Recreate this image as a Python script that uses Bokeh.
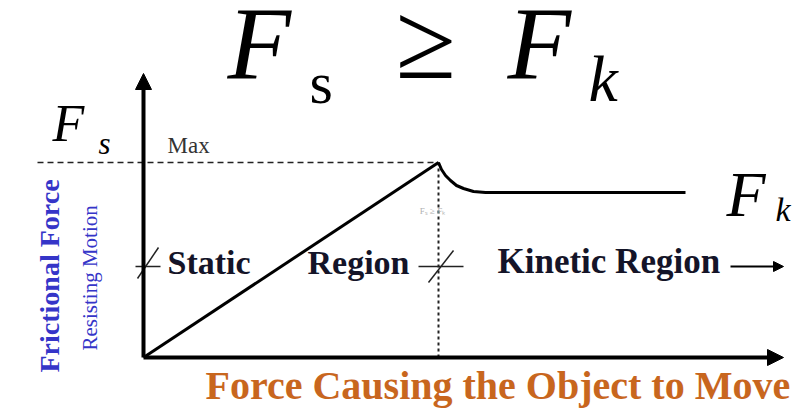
from bokeh.plotting import figure
from bokeh.models import Range1d, Arrow, NormalHead
from bokeh.core.properties import value
from bokeh.embed import file_html
from bokeh.resources import INLINE

# ---- data (applied force vs. friction force, arbitrary units) ----
static_x = [0, 295]
static_y = [0, 195]
kinetic_x = [295, 298, 302, 307, 313, 320, 330, 342, 542]
kinetic_y = [195, 188, 182, 177, 172, 169, 166, 165, 165]
peak_x = 295
peak_y = 195
axis_x_end = 640
axis_y_end = 284
region_level = 91

SERIF = value("Liberation Serif")

p = figure(width=811, height=413, output_backend="svg", toolbar_location=None,
           x_range=Range1d(-143, 668), y_range=Range1d(-56, 357),
           min_border=0, outline_line_color=None)
p.axis.visible = False
p.grid.visible = False
p.background_fill_color = "white"


def label(x, y, txt, size, style="normal", color="black", angle=0.0, **kw):
    # baseline correction for the renderer (about a third of the em size)
    shift = 0.33 * size
    if angle:
        xx, yy = x - shift, y
    else:
        xx, yy = x, y + shift
    p.text(x=[xx], y=[yy], text=[txt], angle=[angle], text_font=SERIF,
           text_font_style=style, text_font_size=f"{size}px", text_color=color,
           text_baseline="alphabetic", **kw)


# axes with arrow heads
p.add_layout(Arrow(end=NormalHead(size=16, fill_color="black", line_color="black"),
                   x_start=0, y_start=0, x_end=axis_x_end, y_end=0,
                   line_width=4, line_color="black"))
p.add_layout(Arrow(end=NormalHead(size=16, fill_color="black", line_color="black"),
                   x_start=0, y_start=0, x_end=0, y_end=axis_y_end,
                   line_width=4, line_color="black"))

# dashed max level and dotted peak marker
p.line([-106, peak_x], [peak_y, peak_y], line_dash="6 4", line_width=1.5, line_color="#222222")
p.line([peak_x, peak_x], [peak_y, 0], line_dash="3 3", line_width=2, line_color="#222222")

# friction curve
p.line(static_x, static_y, line_width=3, line_color="black")
p.line(kinetic_x, kinetic_y, line_width=3, line_color="black", line_join="round")

# region tick marks
p.segment(x0=[-8, 275], y0=[region_level, region_level], x1=[17, 320], y1=[region_level, region_level],
          line_width=1.5, line_color="#222222")
p.segment(x0=[-6, 285], y0=[region_level - 12, region_level - 16],
          x1=[15, 310], y1=[region_level + 19, region_level + 16],
          line_width=1.5, line_color="#222222")
p.add_layout(Arrow(end=NormalHead(size=10, fill_color="black", line_color="black"),
                   x_start=587, y_start=region_level, x_end=640, y_end=region_level,
                   line_width=2, line_color="black"))

# title F_s >= F_k
label(84, 280, "F", 104, "italic")
label(166, 255, "s", 60)
label(252, 280, "\u2265", 110)
label(364, 280, "F", 104, "italic")
label(445, 257, "k", 66, "italic")

# F_s label on left
label(-91, 217, "F", 52, "italic")
label(-45, 204, "s", 31, "italic")

# F_k label on right
label(583, 142, "F", 64, "italic")
label(632, 137, "k", 34, "italic")

label(24, 204, "Max", 23, color="#333333")
label(289, 144, "F\u209b \u2265 F\u2096", 9, color="#b0b0b0", text_align="center")

# region labels
label(24, 84, "Static", 34, "bold", color="#141428")
label(164, 84, "Region", 34, "bold", color="#141428")
label(354, 84, "Kinetic Region", 35, "bold", color="#141428")

# axis titles
label(62, -41, "Force Causing the Object to Move", 40, "bold", color="#c8661e")
label(-85, -15, "Frictional Force", 28, "bold", color="#3535c8", angle=1.5708)
label(-47, 7, "Resisting Motion", 21, color="#3535c8", angle=1.5708)

open("out.html", "w").write(file_html(p, INLINE))
